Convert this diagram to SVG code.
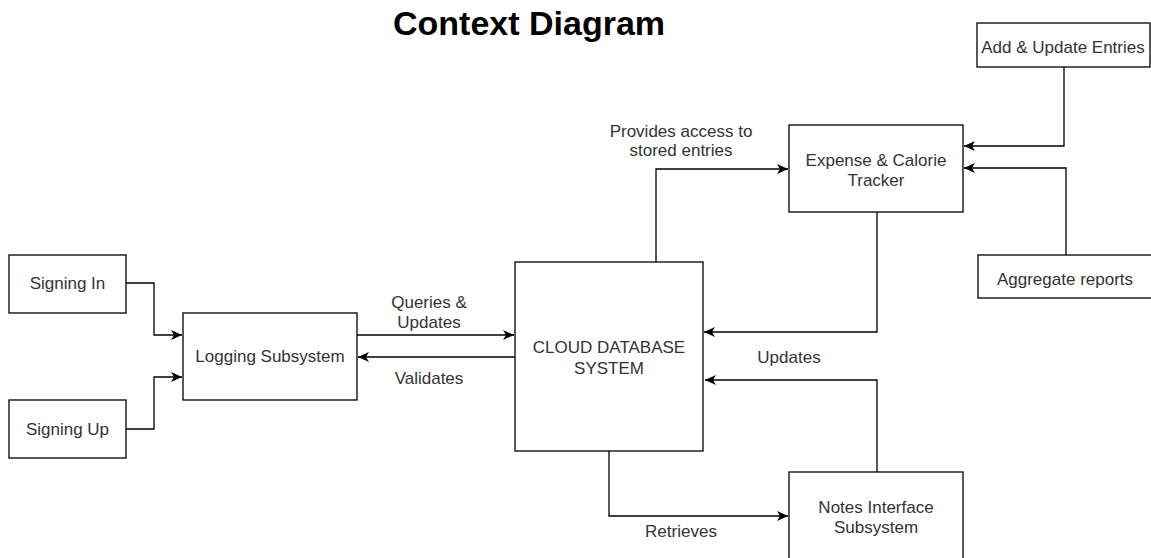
<svg xmlns="http://www.w3.org/2000/svg" width="1151" height="558" viewBox="0 0 1151 558">
<style>
.box{fill:#fff;stroke:#000;stroke-width:1.3}
.lbl{font-family:"Liberation Sans",Arial,sans-serif;font-size:17px;fill:#333;text-anchor:middle}
.title{font-family:"Liberation Sans",Arial,sans-serif;font-size:34px;font-weight:bold;fill:#000}
.conn{fill:none;stroke:#000;stroke-width:1.3}
</style>
<defs>
<marker id="arr" markerUnits="userSpaceOnUse" markerWidth="12" markerHeight="10" viewBox="0 0 12 10" refX="11" refY="5" orient="auto">
<path d="M0,0 L11,5 L0,10 L3,5 z" fill="#000"/>
</marker>
</defs>
<rect width="1151" height="558" fill="#fff"/>
<text class="title" x="393" y="35">Context Diagram</text>

<g id="connectors">
<polyline class="conn" points="126,283 154,283 154,335 182,335" marker-end="url(#arr)"/>
<polyline class="conn" points="126,429 154,429 154,377 182,377" marker-end="url(#arr)"/>
<line class="conn" x1="357" y1="335" x2="514" y2="335" marker-end="url(#arr)"/>
<line class="conn" x1="515" y1="357" x2="358" y2="357" marker-end="url(#arr)"/>
<polyline class="conn" points="656,262 656,169 788,169" marker-end="url(#arr)"/>
<polyline class="conn" points="877,212 877,332 704,332" marker-end="url(#arr)"/>
<polyline class="conn" points="877,472 877,380 705,380" marker-end="url(#arr)"/>
<polyline class="conn" points="609,451 609,516 788,516" marker-end="url(#arr)"/>
<polyline class="conn" points="1064,67 1064,146 964,146" marker-end="url(#arr)"/>
<polyline class="conn" points="1066,255 1066,168 964,168" marker-end="url(#arr)"/>
<text class="lbl" x="429" y="308">Queries &amp;</text>
<text class="lbl" x="429" y="328">Updates</text>
<text class="lbl" x="429" y="384">Validates</text>
<text class="lbl" x="681" y="137">Provides access to</text>
<text class="lbl" x="681" y="156">stored entries</text>
<text class="lbl" x="789" y="363">Updates</text>
<text class="lbl" x="681" y="537">Retrieves</text>
</g>

<g id="signing-in">
<rect class="box" x="9" y="255" width="117" height="58"/>
<text class="lbl" x="67.5" y="289">Signing In</text>
</g>
<g id="signing-up">
<rect class="box" x="9" y="400" width="117" height="58"/>
<text class="lbl" x="67.5" y="435">Signing Up</text>
</g>
<g id="logging">
<rect class="box" x="183" y="313" width="174" height="87"/>
<text class="lbl" x="270" y="362">Logging Subsystem</text>
</g>
<g id="cloud-db">
<rect class="box" x="515" y="262" width="188" height="189"/>
<text class="lbl" x="609" y="353">CLOUD DATABASE</text>
<text class="lbl" x="609" y="374">SYSTEM</text>
</g>
<g id="tracker">
<rect class="box" x="789" y="125" width="174" height="87"/>
<text class="lbl" x="876" y="166">Expense &amp; Calorie</text>
<text class="lbl" x="876" y="186">Tracker</text>
</g>
<g id="notes">
<rect class="box" x="789" y="472" width="174" height="100"/>
<text class="lbl" x="876" y="513">Notes Interface</text>
<text class="lbl" x="876" y="533">Subsystem</text>
</g>
<g id="add-update">
<rect class="box" x="977" y="23" width="173" height="44"/>
<text class="lbl" x="1063" y="53">Add &amp; Update Entries</text>
</g>
<g id="aggregate">
<rect class="box" x="978" y="255" width="174" height="43"/>
<text class="lbl" x="1065" y="285">Aggregate reports</text>
</g>
</svg>
